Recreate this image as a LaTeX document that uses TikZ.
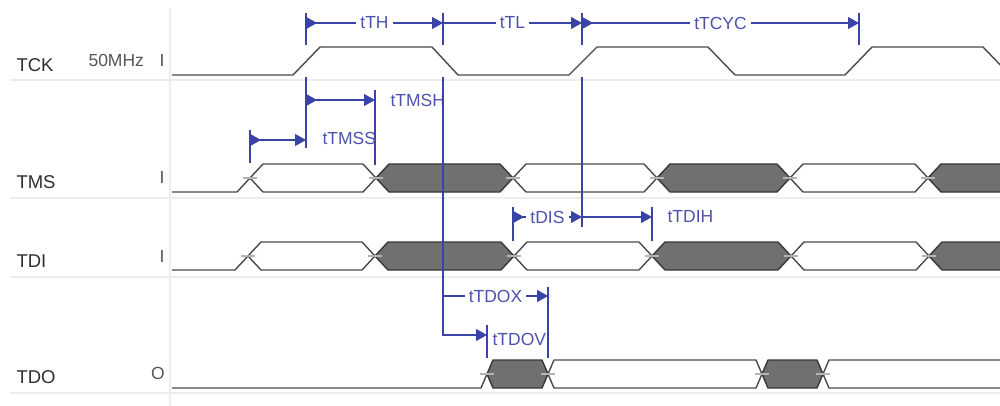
\documentclass[tikz,border=0pt]{standalone}
\usepackage{fontspec}
\setmainfont{Liberation Sans}
\usetikzlibrary{arrows.meta}
\definecolor{wavecol}{HTML}{4A4A4A}
\definecolor{busgray}{HTML}{707070}
\definecolor{busedge}{HTML}{383838}
\definecolor{tickcol}{HTML}{B4B4B4}
\definecolor{sepcol}{HTML}{EDEDED}
\definecolor{tblue}{HTML}{3A44A6}
\definecolor{tbluetext}{HTML}{4C53AE}
\definecolor{sigcol}{HTML}{2E2E2E}
\definecolor{dircol}{HTML}{555555}
\begin{document}
\begin{tikzpicture}[x=1pt, y=-1pt,
	every node/.style={font=\fontsize{17.5}{20}\selectfont},
	wave/.style={draw=wavecol, line width=1.4pt, line join=round},
	busw/.style={wave, fill=white},
	busg/.style={draw=busedge, line width=1.4pt, line join=round, fill=busgray},
	xtick/.style={draw=tickcol, line width=1.2pt},
	sepline/.style={draw=sepcol, line width=2pt},
	marker/.style={draw=tblue, line width=1.2pt},
	timing/.style={marker, -{Triangle[length=11pt, width=12pt]}},
	both/.style={marker, {Triangle[reversed, length=11pt, width=12pt]}-{Triangle[length=11pt, width=12pt]}},
	tlabel/.style={text=tbluetext, fill=white, inner xsep=4pt, inner ysep=1pt},
	tside/.style={text=tbluetext, inner sep=0pt, anchor=west},
	siglabel/.style={text=sigcol, anchor=base west, font=\fontsize{18.5}{20}\selectfont},
	dirlabel/.style={text=dircol, anchor=base}]
	\useasboundingbox (0,0) rectangle (1000,406);
	\clip (0,0) rectangle (1000,406);

	% row separators
	\foreach \y in {80,198,277,393}
		\draw[sepline] (10,\y) -- (1000,\y);
	\draw[sepline, line width=1.5pt] (170,8) -- (170,406);

	% signal names
	\node[siglabel] (tck) at (13,72) {TCK};
	\node[siglabel, text=dircol, font=\fontsize{17.5}{20}\selectfont] (freq) at (85,67) {50MHz};
	\node[dirlabel] (tckdir) at (162,67) {I};
	\node[siglabel] (tms) at (13,188) {TMS};
	\node[dirlabel] (tmsdir) at (162,183) {I};
	\node[siglabel] (tdi) at (13,267) {TDI};
	\node[dirlabel] (tdidir) at (162,262) {I};
	\node[siglabel] (tdo) at (13,383) {TDO};
	\node[dirlabel] (tdodir) at (158,379) {O};

	% clock
	\draw[wave] (172,75) -- (293,75) -- (320,47) -- (432,47) -- (458,75) -- (569,75) -- (597,47)
		-- (708,47) -- (735,75) -- (845,75) -- (872,47) -- (983,47) -- (1010,75);

	% TMS
	\draw[wave] (172,192) -- (237,192) -- (250,178);
	\foreach \a/\b in {250/376,513/657,790/928}
		\draw[busw] (\a,178) -- (\a+13,164) -- (\b-13,164) -- (\b,178) -- (\b-13,192) -- (\a+13,192) -- cycle;
	\foreach \a/\b in {376/513,657/790,928/1080}
		\draw[busg] (\a,178) -- (\a+13,164) -- (\b-13,164) -- (\b,178) -- (\b-13,192) -- (\a+13,192) -- cycle;
	\foreach \x in {250,376,513,657,790,928}
		\draw[xtick] (\x-7,178) -- (\x+7,178);

	% TDI
	\draw[wave] (172,270) -- (235,270) -- (248,256);
	\foreach \a/\b in {248/375,514/652,791/929}
		\draw[busw] (\a,256) -- (\a+13,242) -- (\b-13,242) -- (\b,256) -- (\b-13,270) -- (\a+13,270) -- cycle;
	\foreach \a/\b in {375/514,652/791,929/1080}
		\draw[busg] (\a,256) -- (\a+13,242) -- (\b-13,242) -- (\b,256) -- (\b-13,270) -- (\a+13,270) -- cycle;
	\foreach \x in {248,375,514,652,791,929}
		\draw[xtick] (\x-7,256) -- (\x+7,256);

	% TDO
	\draw[wave] (172,388) -- (481,388) -- (487,374);
	\foreach \a/\b in {548/762,823/1080}
		\draw[busw] (\a,374) -- (\a+6,360) -- (\b-6,360) -- (\b,374) -- (\b-6,388) -- (\a+6,388) -- cycle;
	\foreach \a/\b in {487/548,762/823}
		\draw[busg] (\a,374) -- (\a+6,360) -- (\b-6,360) -- (\b,374) -- (\b-6,388) -- (\a+6,388) -- cycle;
	\foreach \x in {487,548,762,823}
		\draw[xtick] (\x-7,374) -- (\x+7,374);

	% timing marker lines
	\foreach \x/\ya/\yb in {306/13/45, 306/77/148, 443/13/45, 582/13/45, 582/77/227, 859/13/45,
			375/90/165, 250/130/163, 513/207/241, 652/207/241, 548/287/358, 487/325/358}
		\draw[marker] (\x,\ya) -- (\x,\yb);

	\coordinate (th0) at (306,23);
	\coordinate (th1) at (443,23);
	\coordinate (tc0) at (582,23);
	\coordinate (tc1) at (859,23);
	\coordinate (msh0) at (306,100);
	\coordinate (msh1) at (375,100);
	\coordinate (mss0) at (250,140);
	\coordinate (mss1) at (306,140);
	\coordinate (dis0) at (513,217);
	\coordinate (dis1) at (582,217);
	\coordinate (dih1) at (652,217);
	\coordinate (fall) at (443,77);
	\coordinate (dox0) at (443,296);
	\coordinate (dox1) at (548,296);
	\coordinate (dov1) at (487,335);

	% clock timings
	\draw[both] (th0) -- node[tlabel] (lth) {tTH} (th1);
	\draw[timing] (th1) -- node[tlabel] (ltl) {tTL} (tc0);
	\draw[both] (tc0) -- node[tlabel] (ltcyc) {tTCYC} (tc1);

	% TMS setup and hold
	\draw[both] (msh0) -- (msh1) node[tside, xshift=15pt] (lmsh) {tTMSH};
	\draw[both] (mss0) -- (mss1) node[tside, xshift=16pt, yshift=2pt] (lmss) {tTMSS};

	% TDI setup and hold
	\draw[both] (dis0) -- node[tlabel] (ldis) {tDIS} (dis1);
	\draw[timing] (dis1) -- (dih1) node[tside, xshift=15pt] (ldih) {tTDIH};

	% TDO delays
	\draw[timing] (dox0) -- node[tlabel] (ldox) {tTDOX} (dox1);
	\draw[timing] (fall) |- (dov1) node[tside, xshift=5pt, yshift=-4pt] (ldov) {tTDOV};
\end{tikzpicture}
\end{document}
